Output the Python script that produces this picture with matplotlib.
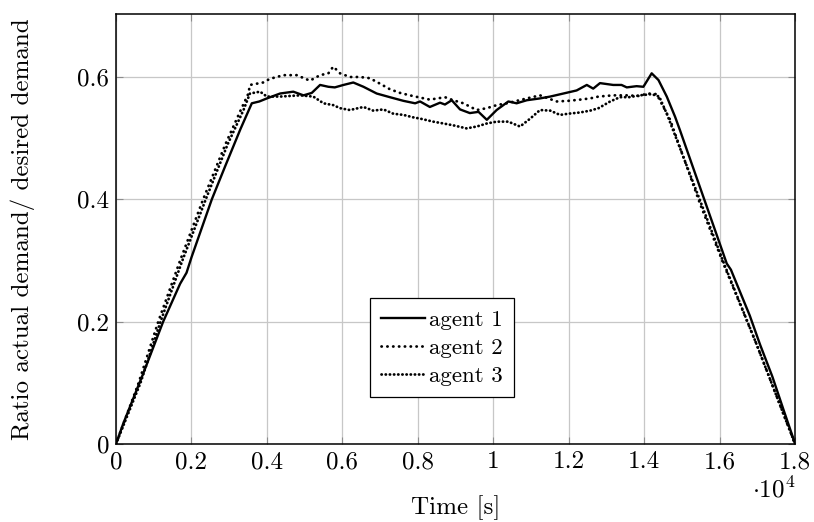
import numpy as np
import matplotlib
matplotlib.use("Agg")
import matplotlib.pyplot as plt
from matplotlib.ticker import FuncFormatter

plt.rcParams['font.family'] = ['cmr10', 'DejaVu Serif']
plt.rcParams['mathtext.fontset'] = 'cm'
plt.rcParams['axes.formatter.use_mathtext'] = True
plt.rcParams['font.size'] = 18

# time in seconds, ratio actual / desired demand
t1 = [0, 190, 720, 1250, 1700, 1870, 2000, 2540, 2900, 3300, 3600, 3800,
      4000, 4350, 4700, 4970, 5190, 5410, 5630, 5800, 6030, 6290, 6560, 6910,
      7260, 7620, 7930, 8060, 8320, 8590, 8720, 8900, 9120, 9380, 9610, 9830,
      10090, 10400, 10620, 10890, 11240, 11510, 11860, 12210, 12480, 12650,
      12830, 13180, 13400, 13540, 13800, 13980, 14200, 14380, 14600, 14820,
      14950, 15200, 15570, 15900, 16190, 16300, 16600, 16800, 17070, 17400,
      17700, 17960, 18000]
a1 = [0, 0.033, 0.115, 0.200, 0.262, 0.280, 0.305, 0.400, 0.455, 0.515,
      0.557, 0.560, 0.565, 0.573, 0.576, 0.570, 0.574, 0.587, 0.584, 0.583,
      0.587, 0.591, 0.584, 0.573, 0.567, 0.561, 0.557, 0.560, 0.551, 0.558,
      0.555, 0.562, 0.547, 0.541, 0.543, 0.530, 0.546, 0.560, 0.557, 0.562,
      0.565, 0.568, 0.573, 0.578, 0.587, 0.581, 0.590, 0.587, 0.587, 0.583,
      0.585, 0.584, 0.606, 0.595, 0.568, 0.535, 0.513, 0.469, 0.404, 0.346,
      0.295, 0.285, 0.240, 0.210, 0.163, 0.110, 0.055, 0.008, 0]

t2 = [0, 600, 1120, 1700, 2310, 2900, 3300, 3510, 3550, 3900, 4080, 4440, 4790,
      5140, 5410, 5630, 5760, 5940, 6200, 6470, 6730, 7000, 7260, 7530, 7790,
      8010, 8320, 8720, 8940, 9210, 9560, 9830, 10090, 10360, 10890, 11240,
      11680, 11990, 12300, 12570, 12790, 13180, 13540, 13850, 14100, 14330,
      14510, 14690, 15480, 16100, 16980, 18000]
a2 = [0, 0.100, 0.200, 0.300, 0.400, 0.490, 0.545, 0.573, 0.587, 0.591, 0.597,
      0.603, 0.603, 0.594, 0.603, 0.606, 0.617, 0.606, 0.600, 0.600, 0.598,
      0.589, 0.580, 0.574, 0.570, 0.567, 0.563, 0.567, 0.562, 0.557, 0.546,
      0.549, 0.554, 0.557, 0.565, 0.570, 0.560, 0.561, 0.563, 0.565, 0.568,
      0.570, 0.570, 0.569, 0.573, 0.572, 0.551, 0.530, 0.393, 0.295, 0.163, 0]

t3 = [0, 650, 1180, 1760, 2380, 2960, 3380, 3550, 3820, 4000, 4350, 4880, 5230,
      5500, 5760, 5940, 6200, 6560, 6820, 7090, 7350, 7620, 7880, 8060, 8410,
      8680, 8940, 9290, 9560, 9830, 10090, 10400, 10710, 10980, 11240, 11510,
      11770, 11990, 12300, 12570, 12790, 13100, 13360, 13600, 13890, 14200,
      14400, 14600, 15520, 16130, 17000, 18000]
a3 = [0, 0.100, 0.200, 0.300, 0.400, 0.490, 0.546, 0.573, 0.576, 0.568, 0.568,
      0.570, 0.568, 0.557, 0.554, 0.549, 0.546, 0.551, 0.545, 0.547, 0.540,
      0.538, 0.534, 0.532, 0.527, 0.524, 0.521, 0.516, 0.519, 0.524, 0.527,
      0.527, 0.519, 0.532, 0.546, 0.545, 0.538, 0.540, 0.542, 0.545, 0.549,
      0.560, 0.567, 0.567, 0.570, 0.572, 0.568, 0.540, 0.392, 0.293, 0.160, 0]

labels = ['agent 1', 'agent 2', 'agent 3']
xticks = [0, 0.2, 0.4, 0.6, 0.8, 1, 1.2, 1.4, 1.6, 1.8]
yticks = [0, 0.2, 0.4, 0.6]

fig = plt.figure(figsize=(8.14, 5.22), dpi=100)
ax = fig.add_axes([0.1425, 0.1494, 0.8342, 0.8238])

scale = 1e4
ax.plot(np.array(t1) / scale, a1, color='black', lw=1.7, label=labels[0])
ax.plot(np.array(t2) / scale, a2, color='black', lw=2.0, ls=(0, (0.1, 2.0)),
        dash_capstyle='round', label=labels[1])
ax.plot(np.array(t3) / scale, a3, color='black', lw=2.0, ls=(0, (0.1, 1.4)),
        dash_capstyle='round', label=labels[2])

ax.set_xlim(0, 1.8)
ax.set_ylim(0, 0.703)
ax.set_xticks(xticks)
ax.set_yticks(yticks)
fmt = FuncFormatter(lambda v, p: '%g' % v)
ax.xaxis.set_major_formatter(fmt)
ax.yaxis.set_major_formatter(fmt)
ax.grid(True, color='0.78', lw=0.9)
ax.set_axisbelow(True)
ax.tick_params(direction='in', length=5, color='0.55', top=True, right=True,
               pad=5)
for s in ax.spines.values():
    s.set_linewidth(1.1)

ax.set_xlabel('Time [s]', labelpad=16)
ax.set_ylabel('Ratio actual demand/ desired demand', labelpad=30)
ax.text(1.0, -0.105, r'$\cdot 10^4$', transform=ax.transAxes, ha='right',
        va='center', fontsize=18)

leg = ax.legend(loc='center', bbox_to_anchor=(0.48, 0.224), fancybox=False,
                framealpha=1, edgecolor='black', handlelength=1.9,
                handletextpad=0.2, borderpad=0.5, labelspacing=0.35,
                borderaxespad=0, fontsize=16.5)
leg.get_frame().set_linewidth(0.9)

fig.savefig('out.png', dpi=100)
